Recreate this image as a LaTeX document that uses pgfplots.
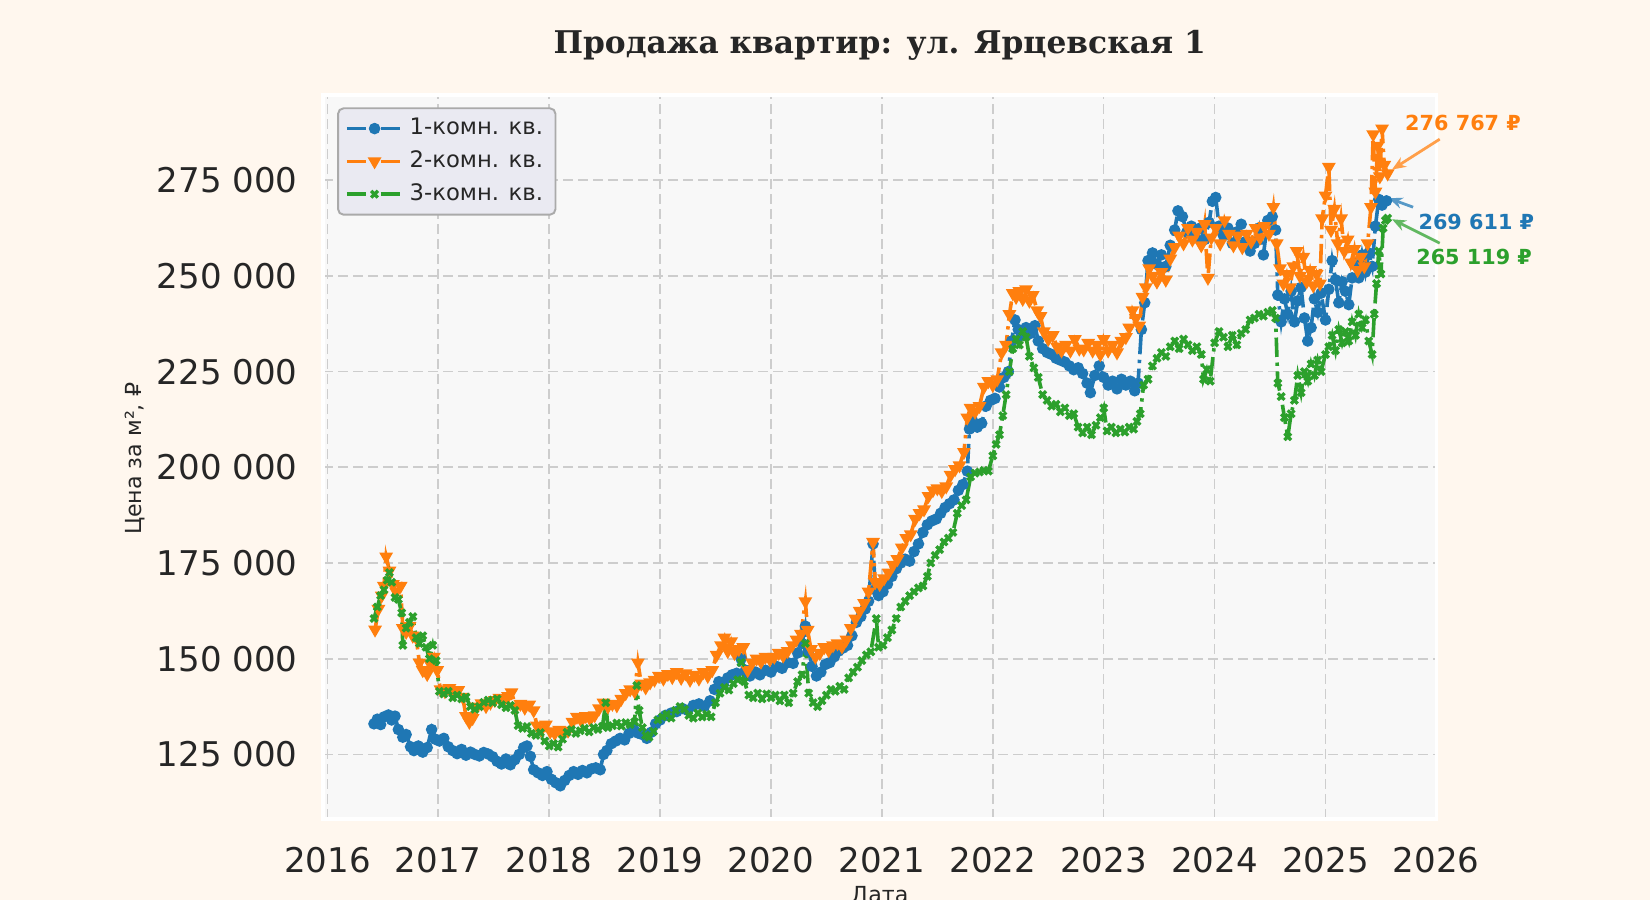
\documentclass[border=0pt]{standalone}
\usepackage{fontspec}
\setmainfont{DejaVu Sans}
\newfontfamily\titlefont{DejaVu Serif}
\usepackage{pgfplots}
\pgfplotsset{compat=1.18}
\usetikzlibrary{arrows.meta}

\definecolor{bgcream}{RGB}{255,247,238}
\definecolor{axface}{RGB}{248,248,248}
\definecolor{gridgray}{RGB}{205,205,205}
\definecolor{txt}{RGB}{38,38,38}
\definecolor{legfill}{RGB}{234,234,242}
\definecolor{legdraw}{RGB}{170,170,170}
\definecolor{c1}{HTML}{1F77B4}
\definecolor{c2}{HTML}{FF7F0E}
\definecolor{c3}{HTML}{2CA02C}

\begin{document}
\begin{tikzpicture}
\useasboundingbox (0,0) rectangle (594bp,324bp);
\fill[bgcream] (0,0) rectangle (594bp,324bp);
\clip (0,0) rectangle (594bp,324bp);

\begin{axis}[
    at={(116.3bp,29.2bp)}, anchor=south west,
    width=400.8bp, height=260.6bp, scale only axis,
    xmin=2015.961, xmax=2026.0,
    ymin=108160, ymax=297270,
    scaled x ticks=false, scaled y ticks=false,
    xtick={2016,2017,...,2026},
    xticklabels={2016,2017,2018,2019,2020,2021,2022,2023,2024,2025,2026},
    ytick={125000,150000,...,275000},
    yticklabels={125 000,150 000,175 000,200 000,225 000,250 000,275 000},
    major tick length=0pt,
    ticklabel style={font=\fontsize{12.3}{14}\selectfont, text=txt, inner sep=0pt},
    xticklabel style={yshift=-10bp},
    yticklabel style={xshift=-9bp},
    axis background/.style={fill=axface},
    axis line style={white, line width=1.2bp},
    grid=major,
    major grid style={gridgray, line width=0.6bp, dash pattern=on 3.6bp off 1.8bp},
    clip=false,
    legend cell align=left,
    legend style={at={(0.0126,0.983)}, anchor=north west, fill=legfill, draw=legdraw,
        line width=0.7bp, rounded corners=2bp, text=txt,
        font=\fontsize{8.2}{10}\selectfont, row sep=0.3bp, inner xsep=2.5bp, inner ysep=1.6bp},
    legend image code/.code={\draw[mark repeat=2,mark phase=2] plot coordinates {(0bp,0bp) (10bp,0bp) (20bp,0bp)};},
    every axis plot/.append style={line width=1.3bp, dash pattern=on 7bp off 2bp on 1.2bp off 2bp},
]

\addplot[c1, mark=*, mark size=1.4pt, mark options={solid}] coordinates {
(2016.42,133000)(2016.45,134200)(2016.48,132800)(2016.51,134800)(2016.55,135300)(2016.58,134000)
(2016.61,135000)(2016.64,131500)(2016.68,129500)(2016.71,130200)(2016.75,127000)(2016.78,126000)
(2016.82,127200)(2016.86,125600)(2016.90,126800)(2016.94,131500)(2016.97,129000)(2017.01,128500)
(2017.05,129200)(2017.09,127000)(2017.13,126000)(2017.17,125200)(2017.21,126300)(2017.25,124800)
(2017.29,125600)(2017.33,125000)(2017.37,124600)(2017.41,125500)(2017.45,125100)(2017.49,124400)
(2017.53,123200)(2017.57,122500)(2017.61,123800)(2017.65,122300)(2017.69,123600)(2017.73,125000)
(2017.77,126800)(2017.80,127200)(2017.83,124500)(2017.86,121000)(2017.90,120200)(2017.94,119500)
(2017.98,120500)(2018.02,118500)(2018.06,117600)(2018.10,116800)(2018.14,118200)(2018.18,119500)
(2018.22,120500)(2018.26,119800)(2018.30,120800)(2018.34,120200)(2018.38,121200)(2018.42,121500)
(2018.46,121000)(2018.49,125000)(2018.52,126000)(2018.56,127800)(2018.60,128500)(2018.64,129200)
(2018.68,128800)(2018.72,130500)(2018.76,131800)(2018.80,130600)(2018.84,130200)(2018.88,129200)
(2018.92,130800)(2018.96,133000)(2019.00,134000)(2019.05,135200)(2019.10,135800)(2019.15,136200)
(2019.20,137000)(2019.25,136500)(2019.30,137800)(2019.35,138200)(2019.40,137600)(2019.45,139000)
(2019.49,142000)(2019.53,144000)(2019.57,143200)(2019.61,145000)(2019.65,145800)(2019.69,146200)
(2019.73,150000)(2019.77,147000)(2019.81,145500)(2019.86,146500)(2019.90,145800)(2019.95,147000)
(2020.00,146500)(2020.05,148000)(2020.10,147500)(2020.15,149000)(2020.20,148800)(2020.24,151500)
(2020.28,154000)(2020.31,158500)(2020.34,152000)(2020.37,148000)(2020.41,145500)(2020.45,146500)
(2020.49,148500)(2020.53,149000)(2020.57,150500)(2020.61,152000)(2020.65,152800)(2020.69,153500)
(2020.73,156000)(2020.77,159500)(2020.81,161000)(2020.85,163000)(2020.88,165000)(2020.92,180000)
(2020.94,168000)(2020.97,166500)(2021.01,167500)(2021.05,169500)(2021.09,171500)(2021.13,173500)
(2021.17,175000)(2021.21,176000)(2021.25,175500)(2021.29,178000)(2021.33,180000)(2021.37,183000)
(2021.41,185000)(2021.45,186000)(2021.49,186500)(2021.53,188000)(2021.57,189500)(2021.61,190500)
(2021.65,191500)(2021.69,194000)(2021.73,195500)(2021.77,199000)(2021.79,210000)(2021.82,212000)
(2021.86,210500)(2021.90,211500)(2021.94,216000)(2021.98,217500)(2022.02,218000)(2022.06,221000)
(2022.10,223500)(2022.14,225000)(2022.17,233000)(2022.20,238500)(2022.23,236000)(2022.26,234500)
(2022.30,236500)(2022.34,235000)(2022.38,237000)(2022.41,233000)(2022.45,231000)(2022.49,230000)
(2022.53,229500)(2022.57,228500)(2022.61,228000)(2022.65,227500)(2022.69,226500)(2022.73,225500)
(2022.77,226000)(2022.81,224500)(2022.85,222000)(2022.88,219500)(2022.92,224000)(2022.96,226500)
(2023.00,223500)(2023.04,221500)(2023.08,222500)(2023.12,220500)(2023.16,223000)(2023.20,221500)
(2023.24,222500)(2023.28,220000)(2023.31,222000)(2023.34,236000)(2023.37,243000)(2023.40,254000)
(2023.44,256000)(2023.48,253000)(2023.52,255500)(2023.56,252500)(2023.60,258000)(2023.64,262000)
(2023.67,267000)(2023.71,265500)(2023.75,261500)(2023.79,263000)(2023.83,260000)(2023.87,262500)
(2023.91,259500)(2023.95,264000)(2023.98,269500)(2024.01,270500)(2024.04,263000)(2024.08,260500)
(2024.12,262500)(2024.16,258500)(2024.20,261500)(2024.24,263500)(2024.28,259000)(2024.32,256500)
(2024.36,258500)(2024.40,262500)(2024.44,255500)(2024.48,264500)(2024.52,265500)(2024.55,262000)
(2024.57,245000)(2024.60,238000)(2024.63,244000)(2024.66,240000)(2024.69,246000)(2024.72,238000)
(2024.75,243500)(2024.78,247000)(2024.81,239000)(2024.84,233000)(2024.87,236500)(2024.90,244000)
(2024.93,240500)(2024.96,245500)(2025.00,238500)(2025.03,246500)(2025.06,254000)(2025.09,249000)
(2025.12,243000)(2025.15,248500)(2025.18,246000)(2025.21,242500)(2025.24,249500)(2025.27,253000)
(2025.30,249500)(2025.33,255500)(2025.36,251000)(2025.39,256000)(2025.42,252500)(2025.45,263000)
(2025.48,270000)(2025.51,268500)(2025.55,269611)
};
\addlegendentry{1-комн. кв.}

\addplot[c2, mark=triangle*, mark size=1.6pt, mark options={solid, rotate=180}] coordinates {
(2016.43,157600)(2016.46,163000)(2016.49,166500)(2016.51,169000)(2016.53,176700)(2016.56,173000)
(2016.59,169500)(2016.62,167500)(2016.66,169000)(2016.68,158000)(2016.71,157000)(2016.74,158500)
(2016.77,156000)(2016.80,155500)(2016.83,149000)(2016.86,147000)(2016.90,146000)(2016.93,148500)
(2016.96,150500)(2016.99,147000)(2017.02,142000)(2017.06,141500)(2017.10,142300)(2017.14,141000)
(2017.18,141800)(2017.22,140000)(2017.25,135000)(2017.28,133500)(2017.31,134500)(2017.35,137500)
(2017.39,138300)(2017.43,137600)(2017.47,138500)(2017.51,139200)(2017.55,139800)(2017.59,139000)
(2017.63,140200)(2017.66,141200)(2017.70,137500)(2017.74,138200)(2017.78,137200)(2017.82,138000)
(2017.86,136500)(2017.89,132500)(2017.93,131500)(2017.97,132800)(2018.01,131000)(2018.05,130500)
(2018.09,131400)(2018.13,130800)(2018.17,131200)(2018.21,133500)(2018.25,134800)(2018.29,133800)
(2018.33,135000)(2018.37,134200)(2018.41,135200)(2018.45,137000)(2018.49,138500)(2018.53,137500)
(2018.57,138200)(2018.61,137800)(2018.65,139500)(2018.69,141000)(2018.73,142000)(2018.77,141500)
(2018.80,149000)(2018.83,143500)(2018.87,142500)(2018.91,143800)(2018.95,144500)(2018.99,145500)
(2019.03,144800)(2019.07,146000)(2019.11,145200)(2019.15,146500)(2019.19,145000)(2019.23,146200)
(2019.27,144500)(2019.31,145800)(2019.35,144800)(2019.39,146500)(2019.43,145500)(2019.47,147000)
(2019.51,151000)(2019.55,153500)(2019.58,155500)(2019.61,152000)(2019.64,154500)(2019.67,151500)
(2019.71,152500)(2019.75,153000)(2019.79,147000)(2019.83,149000)(2019.87,150000)(2019.91,149200)
(2019.95,150500)(2019.99,149800)(2020.03,150500)(2020.07,151500)(2020.11,150800)(2020.15,152000)
(2020.19,153500)(2020.23,155000)(2020.27,156500)(2020.31,165000)(2020.33,157500)(2020.36,152500)
(2020.40,150500)(2020.44,151500)(2020.48,153000)(2020.52,152200)(2020.56,153500)(2020.60,154000)
(2020.64,153200)(2020.68,155000)(2020.72,158000)(2020.76,160500)(2020.80,162500)(2020.84,164500)
(2020.88,167500)(2020.92,180500)(2020.94,170000)(2020.98,169500)(2021.02,171000)(2021.06,172500)
(2021.10,174500)(2021.14,176000)(2021.18,179000)(2021.22,181500)(2021.26,182500)(2021.30,186500)
(2021.34,188000)(2021.38,189000)(2021.42,192500)(2021.46,194000)(2021.50,194500)(2021.54,193800)
(2021.58,195000)(2021.62,198000)(2021.66,199500)(2021.70,200500)(2021.74,204000)(2021.77,213000)
(2021.80,215500)(2021.84,214500)(2021.88,216000)(2021.92,221000)(2021.96,222500)(2022.00,221500)
(2022.04,223000)(2022.08,230000)(2022.12,232000)(2022.15,240000)(2022.18,245500)(2022.21,244500)
(2022.24,246000)(2022.27,244000)(2022.30,246500)(2022.33,243500)(2022.36,245000)(2022.40,241000)
(2022.43,239500)(2022.46,235500)(2022.50,233500)(2022.54,234500)(2022.58,231500)(2022.62,230500)
(2022.66,232000)(2022.70,230500)(2022.74,233500)(2022.78,231000)(2022.82,230800)(2022.86,232500)
(2022.90,230500)(2022.94,232000)(2022.97,229500)(2023.00,233500)(2023.04,230500)(2023.08,232000)
(2023.12,230000)(2023.16,233000)(2023.20,234000)(2023.23,236500)(2023.26,241000)(2023.29,239000)
(2023.32,237000)(2023.35,244500)(2023.38,247000)(2023.41,252000)(2023.44,250000)(2023.48,248500)
(2023.52,251000)(2023.56,249000)(2023.60,254500)(2023.64,257500)(2023.68,260500)(2023.72,258500)
(2023.76,262500)(2023.80,259500)(2023.84,261500)(2023.88,258000)(2023.91,263500)(2023.94,249500)
(2023.97,260000)(2024.01,262500)(2024.05,258500)(2024.09,264500)(2024.13,261000)(2024.17,258000)
(2024.21,260500)(2024.25,257500)(2024.29,261000)(2024.33,259000)(2024.37,262500)(2024.41,260000)
(2024.45,263000)(2024.49,261000)(2024.53,268000)(2024.56,258500)(2024.59,252000)(2024.62,248000)
(2024.65,250500)(2024.68,247000)(2024.71,252500)(2024.74,256500)(2024.77,250000)(2024.80,255000)
(2024.83,248500)(2024.86,251500)(2024.89,247500)(2024.92,250500)(2024.95,248000)(2024.97,265000)
(2025.00,271000)(2025.03,278500)(2025.05,262000)(2025.08,267500)(2025.11,258500)(2025.14,265000)
(2025.17,256500)(2025.20,259500)(2025.23,253500)(2025.26,257000)(2025.29,251500)(2025.32,255000)
(2025.35,252500)(2025.38,258500)(2025.41,268000)(2025.43,287000)(2025.45,272000)(2025.47,284000)
(2025.49,276000)(2025.51,288500)(2025.53,279000)(2025.56,276767)
};
\addlegendentry{2-комн. кв.}

\addplot[c3, mark=x, mark size=1.7pt, mark options={solid, line width=1.2bp}] coordinates {
(2016.42,160500)(2016.45,163500)(2016.48,166500)(2016.51,168000)(2016.54,170500)(2016.56,172500)
(2016.58,170000)(2016.61,166000)(2016.64,165500)(2016.67,162000)(2016.68,153500)(2016.71,158000)
(2016.74,159500)(2016.77,161000)(2016.80,155500)(2016.83,154000)(2016.86,156000)(2016.89,153000)
(2016.92,150000)(2016.95,153500)(2016.98,149500)(2017.01,141500)(2017.05,140800)(2017.09,141500)
(2017.13,139800)(2017.17,140500)(2017.21,139500)(2017.25,140000)(2017.29,137500)(2017.33,136800)
(2017.37,137500)(2017.41,138600)(2017.45,139200)(2017.49,138500)(2017.53,139500)(2017.57,138000)
(2017.61,137200)(2017.65,137800)(2017.69,136500)(2017.72,132500)(2017.76,131800)(2017.80,132300)
(2017.84,130500)(2017.88,130000)(2017.92,130700)(2017.96,128500)(2018.00,127200)(2018.04,127800)
(2018.08,126900)(2018.12,129000)(2018.16,130800)(2018.20,131500)(2018.24,130500)(2018.28,131200)
(2018.32,131800)(2018.36,130900)(2018.40,132000)(2018.44,131500)(2018.48,132300)(2018.51,138500)
(2018.53,132000)(2018.57,132500)(2018.61,133200)(2018.65,132400)(2018.69,133300)(2018.73,132800)
(2018.77,133500)(2018.79,143000)(2018.81,136500)(2018.84,132000)(2018.87,130000)(2018.90,129500)
(2018.94,131000)(2018.98,134000)(2019.02,134800)(2019.06,135500)(2019.10,134500)(2019.14,136500)
(2019.18,137500)(2019.22,136800)(2019.26,135200)(2019.30,134500)(2019.34,135800)(2019.38,134800)
(2019.42,135500)(2019.46,134800)(2019.50,138500)(2019.54,141000)(2019.58,142500)(2019.62,141800)
(2019.66,143500)(2019.70,144500)(2019.73,149000)(2019.76,144000)(2019.80,140500)(2019.84,139800)
(2019.88,141000)(2019.92,139500)(2019.96,140800)(2020.00,139800)(2020.04,140500)(2020.08,139000)
(2020.12,140500)(2020.16,138500)(2020.20,141000)(2020.24,144000)(2020.28,145800)(2020.31,154000)
(2020.34,141000)(2020.38,138500)(2020.42,137500)(2020.46,139000)(2020.50,140500)(2020.54,142000)
(2020.58,141500)(2020.62,142800)(2020.66,142000)(2020.70,145000)(2020.74,146500)(2020.78,147800)
(2020.82,149500)(2020.86,151000)(2020.90,151800)(2020.95,160500)(2020.97,153000)(2021.01,153500)
(2021.05,155500)(2021.09,157500)(2021.13,160500)(2021.17,163500)(2021.21,165000)(2021.25,166500)
(2021.29,167500)(2021.33,168500)(2021.37,169000)(2021.41,171500)(2021.44,175000)(2021.48,177000)
(2021.52,178500)(2021.56,180500)(2021.60,181500)(2021.64,183000)(2021.68,188000)(2021.72,190000)
(2021.76,191500)(2021.80,197500)(2021.84,198500)(2021.88,198800)(2021.92,199200)(2021.96,199000)
(2022.00,203000)(2022.03,206000)(2022.06,208500)(2022.09,213500)(2022.12,219000)(2022.15,225000)
(2022.18,231000)(2022.21,233500)(2022.24,232000)(2022.27,235500)(2022.30,234000)(2022.33,229000)
(2022.37,226000)(2022.41,223500)(2022.45,219000)(2022.49,217500)(2022.53,216000)(2022.57,216500)
(2022.61,214500)(2022.65,215500)(2022.69,213500)(2022.73,214000)(2022.77,210500)(2022.81,209000)
(2022.85,210500)(2022.89,208500)(2022.93,211000)(2022.97,213000)(2023.00,215500)(2023.03,209500)
(2023.07,210500)(2023.11,209000)(2023.15,210000)(2023.19,209200)(2023.23,210500)(2023.27,210000)
(2023.30,212000)(2023.33,214000)(2023.36,221500)(2023.40,223000)(2023.44,226500)(2023.48,228500)
(2023.52,230000)(2023.56,229000)(2023.60,231500)(2023.64,233000)(2023.68,231000)(2023.72,233500)
(2023.76,232000)(2023.80,230500)(2023.84,231500)(2023.88,229500)(2023.90,223000)(2023.93,225500)
(2023.96,222500)(2024.00,232500)(2024.04,235500)(2024.08,234000)(2024.12,231500)(2024.16,234500)
(2024.20,232000)(2024.24,235000)(2024.28,236000)(2024.32,238500)(2024.36,239000)(2024.40,240000)
(2024.44,239500)(2024.48,240500)(2024.52,241000)(2024.55,239000)(2024.57,222000)(2024.60,218500)
(2024.63,213000)(2024.66,208000)(2024.69,214000)(2024.72,217500)(2024.75,224000)(2024.78,219500)
(2024.81,225000)(2024.84,222500)(2024.87,227000)(2024.90,224000)(2024.93,228000)(2024.96,225000)
(2025.00,229500)(2025.03,231500)(2025.06,234500)(2025.09,230500)(2025.12,236000)(2025.15,232500)
(2025.18,235500)(2025.21,233000)(2025.24,238000)(2025.27,234500)(2025.30,240000)(2025.33,236500)
(2025.36,238500)(2025.39,233000)(2025.42,229500)(2025.44,240000)(2025.46,248000)(2025.48,256500)
(2025.50,250500)(2025.52,262500)(2025.54,264500)(2025.56,265119)
};
\addlegendentry{3-комн. кв.}

% подписи последних значений
\draw[c2!75, line width=1bp, -{Stealth[length=5bp,width=4bp]}] (axis cs:2026.03,285730) -- (axis cs:2025.60,277800);
\draw[c1!75, line width=1bp, -{Stealth[length=5bp,width=4bp]}] (axis cs:2025.79,267960) -- (axis cs:2025.57,270300);
\draw[c3!75, line width=1bp, -{Stealth[length=5bp,width=4bp]}] (axis cs:2026.03,258560) -- (axis cs:2025.60,264800);
\node[c2, font=\fontsize{7.5}{9}\selectfont\bfseries] at (axis cs:2026.24,289880) {276 767 ₽};
\node[c1, font=\fontsize{7.5}{9}\selectfont\bfseries] at (axis cs:2026.36,264030) {269 611 ₽};
\node[c3, font=\fontsize{7.5}{9}\selectfont\bfseries] at (axis cs:2026.34,254900) {265 119 ₽};
\end{axis}

\node[txt, font=\titlefont\bfseries\fontsize{11.3}{13}\selectfont] at (316.7bp,307.5bp) {Продажа квартир: ул. Ярцевская 1};
\node[txt, rotate=90, font=\fontsize{8}{10}\selectfont] at (48.5bp,158.8bp) {Цена за м², ₽};
\node[txt, anchor=north, inner sep=0pt, font=\fontsize{8}{10}\selectfont] at (316.7bp,5.2bp) {Дата};
\end{tikzpicture}
\end{document}
